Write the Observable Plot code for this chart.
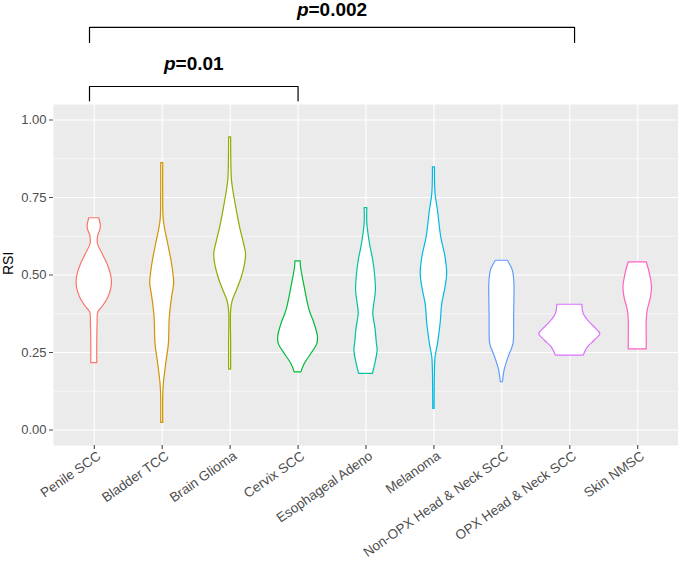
<!DOCTYPE html>
<html>
<head>
<meta charset="utf-8">
<script src="https://cdn.jsdelivr.net/npm/d3@7"></script>
<script src="https://cdn.jsdelivr.net/npm/@observablehq/plot@0.6"></script>
<style>
  html, body { margin: 0; padding: 0; background: #fff; }
  #chart svg { display: block; }
</style>
</head>
<body>
<div id="chart"></div>
<script>
// Categories and their ggplot hue colours
const categories = ["Penile SCC", "Bladder TCC", "Brain Glioma", "Cervix SCC", "Esophageal Adeno",
  "Melanoma", "Non-OPX Head & Neck SCC", "OPX Head & Neck SCC", "Skin NMSC"];
const colors = ["#F8766D", "#D39200", "#93AA00", "#00BA38", "#00C19F",
  "#00B9E3", "#619CFF", "#DB72FB", "#FF61C3"];

// Axis ticks
const yTicks = [0, 0.25, 0.5, 0.75, 1];
const yMinor = [0.125, 0.375, 0.625, 0.875];

// Violin outlines: [RSI, half width]
const penile = [[0.216,0.044],[0.28,0.044],[0.34,0.049],[0.38,0.06],[0.396,0.12],[0.428,0.21],[0.46,0.254],[0.482,0.259],[0.503,0.244],[0.535,0.195],[0.568,0.122],[0.60,0.054],[0.627,0.059],[0.645,0.09],[0.66,0.097],[0.683,0.073]];
const bladder = [[0.023,0.015],[0.105,0.015],[0.148,0.024],[0.213,0.059],[0.277,0.098],[0.363,0.112],[0.428,0.146],[0.471,0.176],[0.492,0.171],[0.546,0.137],[0.60,0.088],[0.675,0.024],[0.761,0.015],[0.861,0.015]];
const brain = [[0.195,0.015],[0.277,0.015],[0.385,0.015],[0.417,0.039],[0.449,0.098],[0.492,0.171],[0.535,0.22],[0.568,0.234],[0.60,0.205],[0.654,0.146],[0.708,0.098],[0.783,0.039],[0.815,0.024],[0.944,0.015]];
const cervix = [[0.186,0.049],[0.213,0.098],[0.245,0.195],[0.277,0.283],[0.299,0.293],[0.342,0.244],[0.385,0.171],[0.46,0.098],[0.525,0.044],[0.544,0.039]];
const esophageal = [[0.181,0.102],[0.213,0.137],[0.256,0.171],[0.277,0.161],[0.331,0.137],[0.374,0.107],[0.406,0.122],[0.449,0.146],[0.492,0.137],[0.546,0.107],[0.60,0.059],[0.665,0.02],[0.716,0.02]];
const melanoma = [[0.068,0.01],[0.191,0.015],[0.234,0.024],[0.277,0.059],[0.342,0.098],[0.406,0.122],[0.46,0.171],[0.503,0.195],[0.557,0.171],[0.622,0.107],[0.708,0.059],[0.761,0.024],[0.847,0.015]];
const nonOpx = [[0.154,0.015],[0.191,0.039],[0.234,0.098],[0.277,0.171],[0.32,0.18],[0.363,0.18],[0.428,0.185],[0.471,0.185],[0.514,0.161],[0.546,0.088]];
const opx = [[0.240,0.205],[0.267,0.268],[0.288,0.366],[0.310,0.449],[0.320,0.415],[0.347,0.293],[0.374,0.205],[0.404,0.185]];
const skin = [[0.26,0.132],[0.299,0.132],[0.353,0.132],[0.385,0.146],[0.428,0.195],[0.46,0.21],[0.503,0.18],[0.541,0.132]];
const profiles = [penile, bladder, brain, cervix, esophageal, melanoma, nonOpx, opx, skin];

// Significance brackets (x in category positions)
const bracketFrom = [-0.07, -0.07];
const bracketTo = [7.07, 3];
const bracketTop = [1.299, 1.108];
const bracketLeg = [1.25, 1.062];
const bracketLabelY = [1.337, 1.162];
const bracketLabels = ["p=0.002", "p=0.01"];

const violinRows = categories.flatMap((c, i) =>
  profiles[i].map(([y, hw]) => ({cat: c, i, y, x1: i - hw, x2: i + hw})));

const bracketRows = bracketFrom.flatMap((f, k) => [
  {k, x: f, y: bracketLeg[k]},
  {k, x: f, y: bracketTop[k]},
  {k, x: bracketTo[k], y: bracketTop[k]},
  {k, x: bracketTo[k], y: bracketLeg[k]}
]);
const labelRows = bracketLabels.map((t, k) => ({t, x: (bracketFrom[k] + bracketTo[k]) / 2, y: bracketLabelY[k]}));

const plot = Plot.plot({
  width: 678,
  height: 563,
  marginLeft: 53,
  marginRight: 0,
  marginTop: 104,
  marginBottom: 118,
  style: {fontFamily: "'Liberation Sans', Arial, sans-serif", background: "white", overflow: "visible"},
  x: {domain: [-0.6, 8.6]},
  y: {domain: [-0.05, 1.05]},
  color: {domain: categories, range: colors},
  marks: [
    Plot.frame({fill: "#EBEBEB", stroke: null}),
    Plot.ruleY(yMinor, {stroke: "white", strokeWidth: 0.55}),
    Plot.ruleY(yTicks, {stroke: "white", strokeWidth: 1.1}),
    Plot.ruleX(d3.range(categories.length), {stroke: "white", strokeWidth: 1.1}),
    Plot.areaX(violinRows, {y: "y", x1: "x1", x2: "x2", z: "cat", fill: "white", stroke: "cat", strokeWidth: 1.2, curve: "catmull-rom"}),
    Plot.axisY(yTicks, {tickFormat: d3.format(".2f"), tickSize: 4, tickPadding: 3, fontSize: 13, color: "#4D4D4D", label: null}),
    Plot.axisX(d3.range(categories.length), {tickSize: 4, tickPadding: 2, text: null, label: null, color: "#333333"}),
    Plot.axisX(d3.range(categories.length), {tickFormat: i => categories[i], tickRotate: -35, tickSize: 0, tickPadding: 6, dx: 5, dy: 3, fontSize: 13.5, color: "#4D4D4D", label: null}),
    Plot.text(["RSI"], {text: d => d, frameAnchor: "left", rotate: -90, dx: -45, fontSize: 14, fill: "black"}),
    Plot.line(bracketRows, {x: "x", y: "y", z: "k", stroke: "black", strokeWidth: 1.2}),
    Plot.text(labelRows, {x: "x", y: "y", text: "t", fontSize: 19, fontWeight: "bold", fill: "black", lineAnchor: "bottom"})
  ]
});

// italic "p" in the significance labels
d3.select(plot).selectAll("text").filter(function () { return /^p=/.test(this.textContent); })
  .each(function () {
    const t = d3.select(this);
    const rest = this.textContent.slice(1);
    t.text(null);
    t.append("tspan").attr("font-style", "italic").text("p");
    t.append("tspan").text(rest);
  });

document.getElementById("chart").appendChild(plot);
</script>
</body>
</html>
